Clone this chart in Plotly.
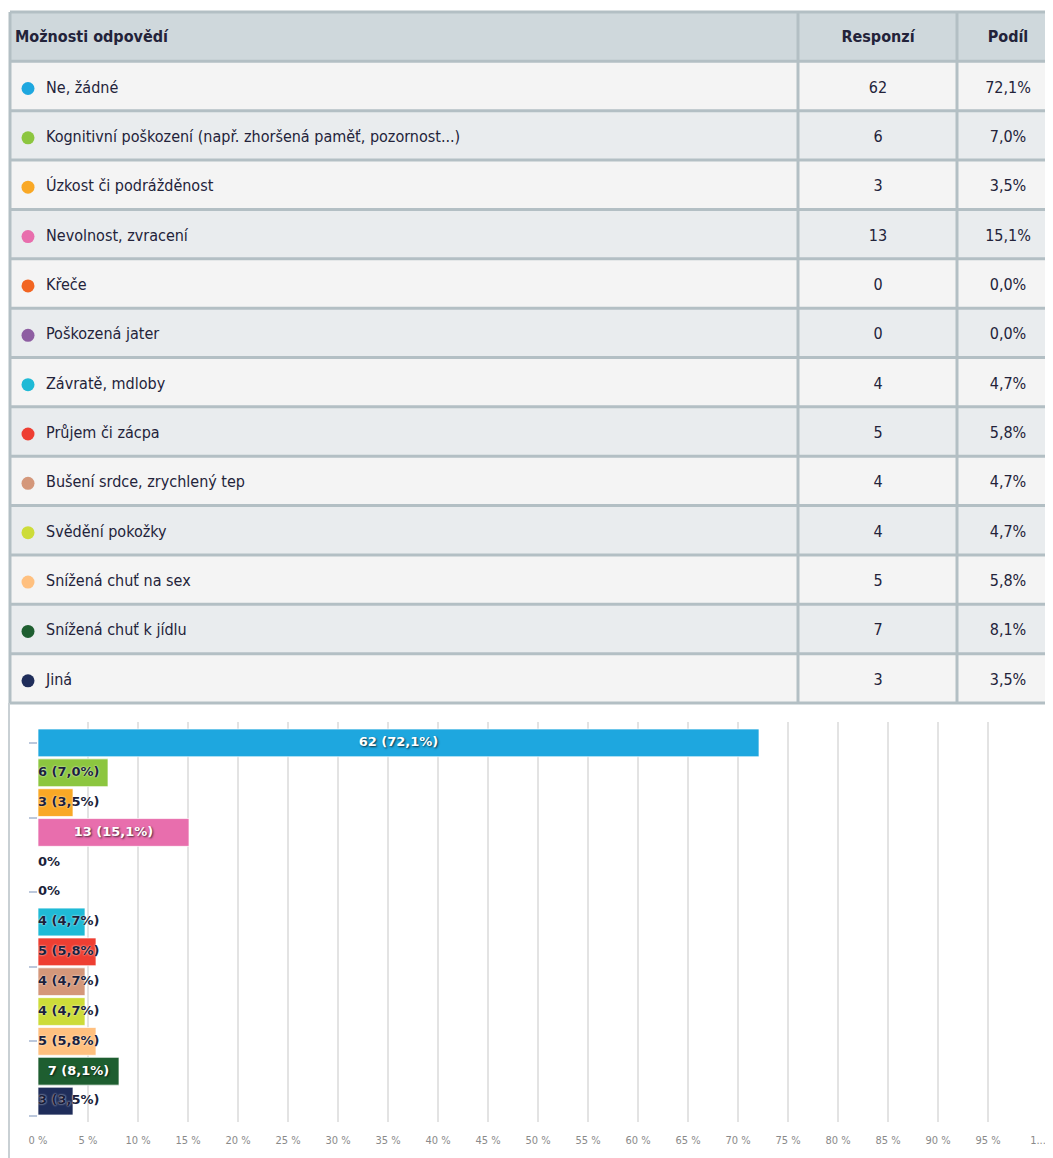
import plotly.graph_objects as go

# answer options, counts and shares as shown in the survey table
options = [
    "Ne, žádné",
    "Kognitivní poškození (např. zhoršená paměť, pozornost...)",
    "Úzkost či podrážděnost",
    "Nevolnost, zvracení",
    "Křeče",
    "Poškozená jater",
    "Závratě, mdloby",
    "Průjem či zácpa",
    "Bušení srdce, zrychlený tep",
    "Svědění pokožky",
    "Snížená chuť na sex",
    "Snížená chuť k jídlu",
    "Jiná",
]
counts = [62, 6, 3, 13, 0, 0, 4, 5, 4, 4, 5, 7, 3]
shares = [72.1, 7.0, 3.5, 15.1, 0.0, 0.0, 4.7, 5.8, 4.7, 4.7, 5.8, 8.1, 3.5]
colors = ["#1ea7df", "#8cc63f", "#f9a825", "#e86ead", "#f26522", "#8e5ea2",
          "#1fbad6", "#ee3e32", "#d4977a", "#cddc39", "#ffc07f", "#1e5e30", "#1f2d5a"]
headers = ["Možnosti odpovědí", "Responzí", "Podíl"]
tick_vals = [0, 5, 10, 15, 20, 25, 30, 35, 40, 45, 50, 55, 60, 65, 70, 75, 80, 85, 90, 95, 100]
tick_text = [f"{v} %" for v in tick_vals[:-1]] + ["1..."]

W, H = 1053, 1158
OFF = 8  # the page body margin shifts the figure by this much
FONT = "DejaVu Sans Condensed, DejaVu Sans, sans-serif"
TXT = "#23233a"
LINE = "#b3bfc4"


def fmt(v):
    return f"{v:.1f}".replace(".", ",") + "%"


def px_x(p):
    return (p - OFF) / W


def px_y(p):
    return 1 - (p - OFF) / H


fig = go.Figure()

# ---- table drawn on its own hidden axes (x in page pixels, y in row index) ----
n = len(options)
rows = list(range(n))
unit = (703 - 12) / (n + 1)
pad = 3 / unit
col_x = [10, 798, 957]          # column borders
cnt_x, shr_x = 878, 1008        # centre of numeric columns
text_rows = [r + 0.05 for r in rows]

# row backgrounds
fig.add_shape(type="rect", xref="x2", yref="y2", x0=10, x1=W + OFF, y0=-1.5, y1=-0.5,
              fillcolor="#cfd8dc", line_width=0, layer="below")
for i in rows:
    fig.add_shape(type="rect", xref="x2", yref="y2", x0=10, x1=W + OFF, y0=i - 0.5, y1=i + 0.5,
                  fillcolor="#f4f4f4" if i % 2 == 0 else "#e9ecee", line_width=0, layer="below")
# grid lines
for i in range(-1, n + 1):
    fig.add_shape(type="line", xref="x2", yref="y2", x0=10, x1=W + OFF, y0=i - 0.5, y1=i - 0.5,
                  line=dict(color=LINE, width=3), layer="below")
for cx in col_x:
    fig.add_shape(type="line", xref="x2", yref="y2", x0=cx, x1=cx, y0=-1.5, y1=n - 0.5,
                  line=dict(color=LINE, width=3), layer="below")

fig.add_trace(go.Scatter(
    x=[28] * n, y=text_rows, mode="markers",
    marker=dict(color=colors, size=13, line_width=0),
    xaxis="x2", yaxis="y2", hoverinfo="skip", showlegend=False,
))
fig.add_trace(go.Scatter(
    x=[46] * n, y=text_rows, text=options, mode="text", textposition="middle right",
    textfont=dict(family=FONT, size=16, color=TXT),
    xaxis="x2", yaxis="y2", hoverinfo="skip", showlegend=False,
))
fig.add_trace(go.Scatter(
    x=[cnt_x] * n + [shr_x] * n, y=text_rows + text_rows,
    text=[str(c) for c in counts] + [fmt(s) for s in shares],
    mode="text", textposition="middle center",
    textfont=dict(family=FONT, size=16, color=TXT),
    xaxis="x2", yaxis="y2", hoverinfo="skip", showlegend=False,
))
fig.add_trace(go.Scatter(
    x=[15], y=[-0.97], text=[headers[0]], mode="text", textposition="middle right",
    textfont=dict(family=FONT, size=16, color=TXT, weight="bold"),
    xaxis="x2", yaxis="y2", hoverinfo="skip", showlegend=False,
))
fig.add_trace(go.Scatter(
    x=[cnt_x, shr_x], y=[-0.97, -0.97], text=headers[1:], mode="text", textposition="middle center",
    textfont=dict(family=FONT, size=16, color=TXT, weight="bold"),
    xaxis="x2", yaxis="y2", hoverinfo="skip", showlegend=False,
))

# ---- bar chart ----
fig.add_trace(go.Bar(
    x=shares, y=rows, orientation="h",
    marker=dict(color=colors, line=dict(color="rgba(255,255,255,0.7)", width=1)),
    width=0.93, hoverinfo="skip", showlegend=False,
))

labels = ["0%" if c == 0 else f"{c} ({fmt(s)})" for c, s in zip(counts, shares)]
inside = [s >= 8 for s in shares]

fig.add_trace(go.Scatter(
    x=[s / 2 for s, k in zip(shares, inside) if k],
    y=[y for y, k in zip(rows, inside) if k],
    text=[t for t, k in zip(labels, inside) if k],
    mode="text", textposition="middle center",
    textfont=dict(family="DejaVu Sans, sans-serif", size=13, color="white", weight="bold",
                  shadow="1px 1px 2px rgba(0,0,0,0.7)"),
    hoverinfo="skip", showlegend=False,
))
fig.add_trace(go.Scatter(
    x=[0 for k in inside if not k],
    y=[y for y, k in zip(rows, inside) if not k],
    text=[t for t, k in zip(labels, inside) if not k],
    mode="text", textposition="middle right",
    textfont=dict(family="DejaVu Sans, sans-serif", size=13, color="#1b1f3b", weight="bold",
                  shadow="0px 0px 2px #ffffff"),
    hoverinfo="skip", showlegend=False,
))

fig.update_layout(
    xaxis=dict(
        domain=[px_x(38), px_x(1038)], range=[0, 100], automargin=False,
        tickvals=tick_vals, ticktext=tick_text, ticklabelstandoff=10,
        tickfont=dict(family="DejaVu Sans Condensed, DejaVu Sans, sans-serif", size=11, color="#8a8a8a"),
        showgrid=True, gridcolor="#e3e3e3", gridwidth=2, zeroline=False,
        showline=False, ticks="", fixedrange=True,
    ),
    yaxis=dict(
        domain=[px_y(1122), px_y(722)], range=[12.7, -0.7], automargin=False,
        tickmode="linear", tick0=0, dtick=2.5, ticks="outside", ticklen=8, tickwidth=1.5,
        tickcolor="#bcc8dc", showticklabels=False, showgrid=False, zeroline=False,
        showline=False, fixedrange=True,
    ),
    xaxis2=dict(domain=[0, 1], range=[OFF, W + OFF], visible=False, automargin=False, fixedrange=True),
    yaxis2=dict(domain=[px_y(703 + 3), px_y(12 - 3)], range=[n - 0.5 + pad, -1.5 - pad],
                visible=False, automargin=False, fixedrange=True),
    width=W, height=H,
    margin=dict(l=0, r=0, t=0, b=0),
    paper_bgcolor="white", plot_bgcolor="white",
    bargap=0.07,
)

# left border of the chart panel
fig.add_shape(type="line", xref="paper", yref="paper",
              x0=px_x(9), x1=px_x(9), y0=0, y1=px_y(703),
              line=dict(color="#c9d0d4", width=2))

fig.write_html("out.html")
